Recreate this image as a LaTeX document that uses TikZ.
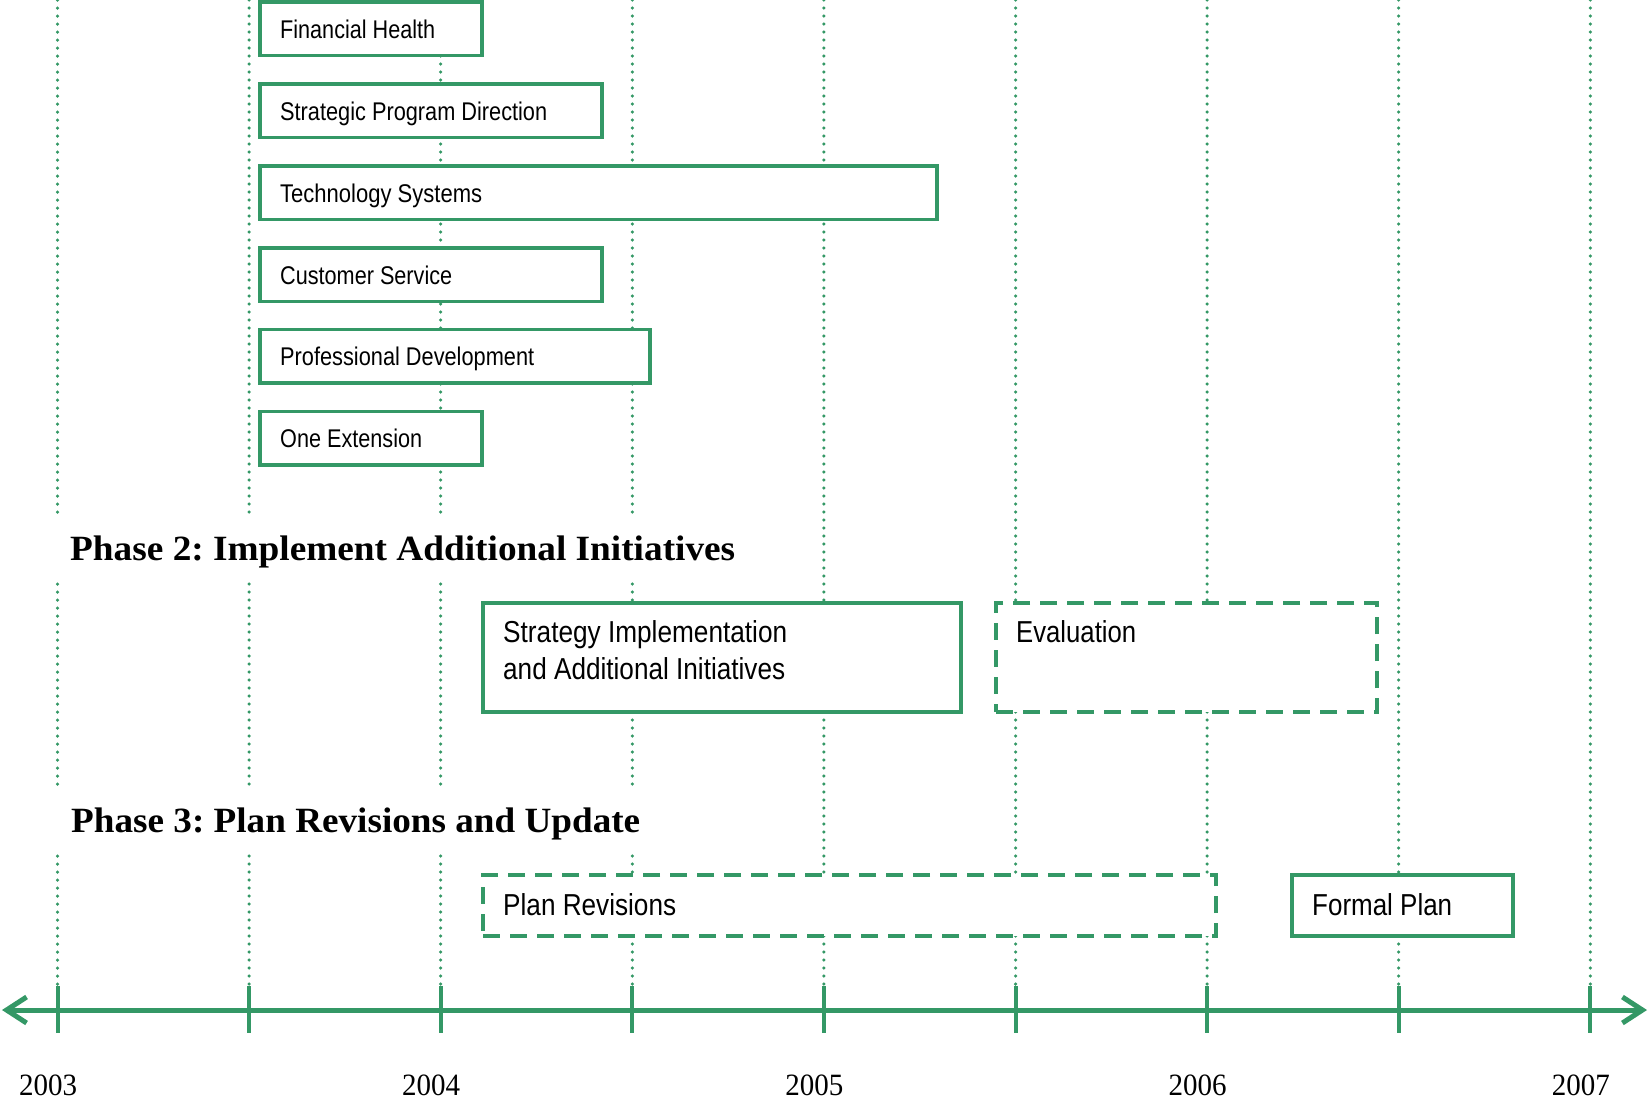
\documentclass[tikz,border=0pt]{standalone}
\usepackage{fontspec}
\setmainfont{Liberation Serif}
\setsansfont{Liberation Sans}
\usetikzlibrary{arrows.meta}
\definecolor{grn}{RGB}{52,152,102}
\newcommand\fitw[2]{\resizebox{#1pt}{\height}{#2}}
\frenchspacing
\tikzset{
  gridline/.style={draw=grn, line width=3.5pt, line cap=round, dash pattern=on 0pt off 8pt},
  bar/.style={draw=grn, line width=3.5pt, fill=white, anchor=north west, inner sep=0pt, outer sep=0pt},
  dbar/.style={bar, dash pattern=on 17pt off 10pt},
  smalltxt/.style={anchor=base west, inner sep=0pt, font=\sffamily\fontsize{25.6}{30}\selectfont},
  bigtxt/.style={anchor=base west, inner sep=0pt, font=\sffamily\fontsize{30.3}{36}\selectfont},
  heading/.style={anchor=base west, inner sep=0pt, font=\bfseries\fontsize{35.5}{42}\selectfont},
  yearlbl/.style={anchor=base, inner sep=0pt, font=\fontsize{31}{36}\selectfont},
  axisline/.style={draw=grn, line width=5pt},
  tickline/.style={draw=grn, line width=4pt},
}
\begin{document}
\begin{tikzpicture}[x=1pt,y=-1pt]
\useasboundingbox (0,0) rectangle (1649,1103);
% dotted grid
\foreach \i in {0,...,8} {
  \coordinate (gt\i) at (57.5+191.6*\i, 0);
  \coordinate (gb\i) at (57.5+191.6*\i, 986);
  \draw[gridline] (gt\i) -- (gb\i);
}
% heading backgrounds
\fill[white] (30,514) rectangle (760,578);
\fill[white] (30,786) rectangle (760,850);
% Phase 1 bars
\node[bar, minimum width=222pt, minimum height=53.5pt] (fh) at (260,2) {};
\node[smalltxt] (fht) at (280,38) {\fitw{155}{Financial Health}};
\node[bar, minimum width=342pt, minimum height=53.5pt] (spd) at (260,84) {};
\node[smalltxt] (spdt) at (280,120) {\fitw{267}{Strategic Program Direction}};
\node[bar, minimum width=677pt, minimum height=53.5pt] (ts) at (260,166) {};
\node[smalltxt] (tst) at (280,202) {\fitw{202}{Technology Systems}};
\node[bar, minimum width=342pt, minimum height=53.5pt] (cs) at (260,248) {};
\node[smalltxt] (cst) at (280,284) {\fitw{172}{Customer Service}};
\node[bar, minimum width=390pt, minimum height=53.5pt] (pd) at (260,329.5) {};
\node[smalltxt] (pdt) at (280,365.5) {\fitw{254}{Professional Development}};
\node[bar, minimum width=222pt, minimum height=53.5pt] (oe) at (260,411.5) {};
\node[smalltxt] (oet) at (280,447.5) {\fitw{142}{One Extension}};
% Phase 2
\node[heading] (ph2) at (70,560) {\fitw{665}{Phase 2: Implement Additional Initiatives}};
\node[bar, minimum width=478pt, minimum height=109pt] (si) at (483,603) {};
\node[bigtxt] (sit1) at (503,642.7) {\fitw{284}{Strategy Implementation}};
\node[bigtxt] (sit2) at (503,679.4) {\fitw{282}{and Additional Initiatives}};
\node[dbar, minimum width=381pt, minimum height=109pt] (ev) at (996,603) {};
\node[bigtxt] (evt) at (1016,642.7) {\fitw{120}{Evaluation}};
% Phase 3
\node[heading] (ph3) at (71,832) {\fitw{569}{Phase 3: Plan Revisions and Update}};
\node[dbar, minimum width=733pt, minimum height=61pt] (pr) at (483,875) {};
\node[bigtxt] (prt) at (503,915) {\fitw{173}{Plan Revisions}};
\node[bar, minimum width=221pt, minimum height=61pt] (fp) at (1292,875) {};
\node[bigtxt] (fpt) at (1312,915) {\fitw{140}{Formal Plan}};
% axis
\coordinate (al) at (2,1010);
\coordinate (ar) at (1647,1010);
\draw[axisline, {Straight Barb[length=20pt,width=26pt]}-{Straight Barb[length=20pt,width=26pt]}] (al) -- (ar);
\foreach \i in {0,...,8} {
  \coordinate (tt\i) at (57.5+191.6*\i, 986);
  \coordinate (tb\i) at (57.5+191.6*\i, 1033);
  \draw[tickline] (tt\i) -- (tb\i);
}
% years
\node[yearlbl] (y3) at (48,1095) {\fitw{58}{2003}};
\node[yearlbl] (y4) at (431.2,1095) {\fitw{58}{2004}};
\node[yearlbl] (y5) at (814.4,1095) {\fitw{58}{2005}};
\node[yearlbl] (y6) at (1197.6,1095) {\fitw{58}{2006}};
\node[yearlbl] (y7) at (1580.8,1095) {\fitw{58}{2007}};
\end{tikzpicture}
\end{document}
